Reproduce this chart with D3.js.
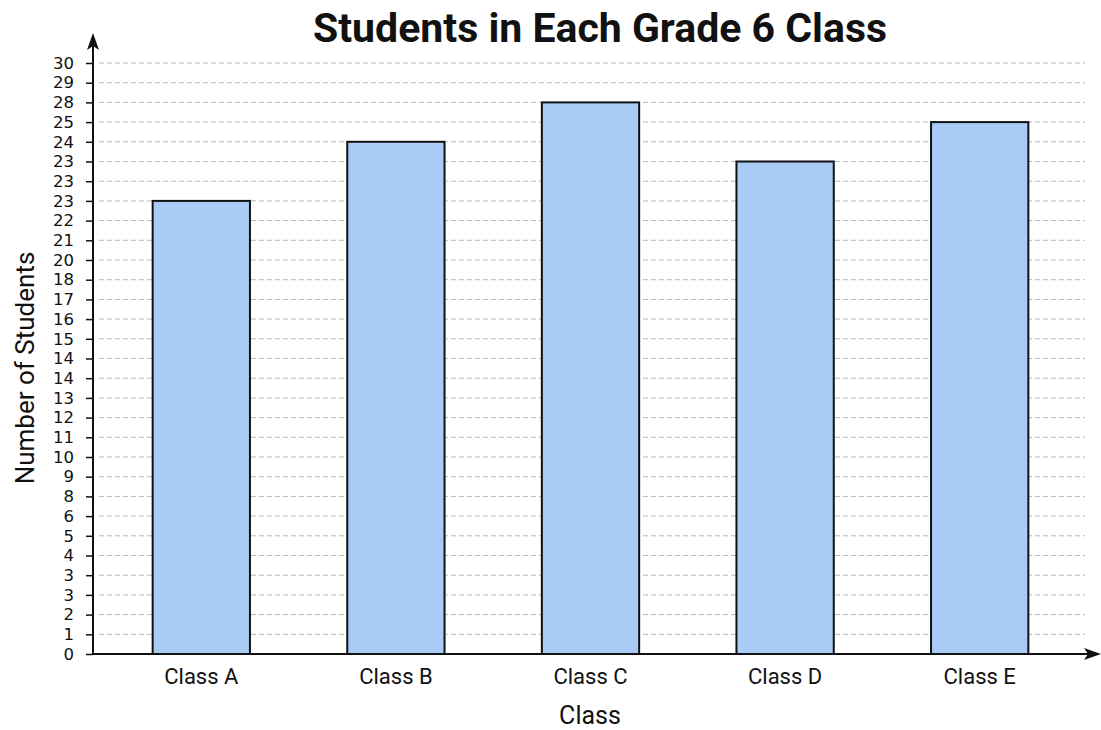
<!DOCTYPE html>
<html>
<head>
<meta charset="utf-8">
<script src="https://cdn.jsdelivr.net/npm/d3@7"></script>
<style>
  body { margin: 0; background: #fff; }
  text { font-family: Roboto, "Noto Sans", sans-serif; fill: #111; }
</style>
</head>
<body>
<svg width="1101" height="730"></svg>
<script>
// bar heights, read against the gridlines
const classes = ["Class A", "Class B", "Class C", "Class D", "Class E"]
const students = [23, 26, 28, 25, 27]
// tick labels exactly as printed on the chart, from 0 up to 30
const tickLabels = ["0", "1", "2", "3", "3", "4", "5", "6", "8", "9", "10",
    "11", "12", "13", "14", "14", "15", "16", "17", "18", "20",
    "21", "22", "23", "23", "23", "24", "25", "28", "29", "30"]

let svg = d3.select("svg")
const x0 = 93, yBase = 654, yTop = 63

let x = d3.scaleBand()
    .domain(classes)
    .range([104, 1077])
    .paddingInner(0.5)
    .paddingOuter(0.25)

let y = d3.scaleLinear()
    .domain([0, 30])
    .range([yBase, yTop])

const ticks = d3.range(0, 31)

// dashed gridlines
svg.append("g").selectAll("line").data(ticks.slice(1))
    .enter().append("line")
    .attr("x1", x0 + 6)
    .attr("x2", 1085)
    .attr("y1", d => y(d))
    .attr("y2", d => y(d))
    .attr("stroke", "#b8b8b8")
    .attr("stroke-width", 1)
    .attr("stroke-dasharray", "5,3")

// bars
svg.append("g").selectAll("rect").data(students)
    .enter().append("rect")
    .attr("x", (d, i) => x(classes[i]))
    .attr("y", d => y(d))
    .attr("width", x.bandwidth())
    .attr("height", d => yBase - y(d))
    .attr("fill", "#a9cbf6")
    .attr("stroke", "#111")
    .attr("stroke-width", 2)

// y axis
let yAxis = d3.axisLeft(y)
    .tickValues(ticks)
    .tickSize(7)
    .tickPadding(12)
    .tickFormat(d => tickLabels[d])

let gy = svg.append("g")
    .attr("transform", "translate(" + x0 + ",0)")
    .call(yAxis)
gy.select(".domain").remove()
gy.selectAll(".tick line").attr("stroke", "#111").attr("stroke-width", 1.5)
gy.selectAll(".tick text")
    .style("font-family", "'DejaVu Sans', sans-serif")
    .style("font-size", "16.5px")
    .attr("fill", "#111")

// x axis labels
let xAxis = d3.axisBottom(x).tickSize(0).tickPadding(14)
let gx = svg.append("g")
    .attr("transform", "translate(0," + yBase + ")")
    .call(xAxis)
gx.select(".domain").remove()
gx.selectAll(".tick text").style("font-size", "22px").attr("fill", "#111")

// axis lines with arrow heads
svg.append("line")
    .attr("x1", x0).attr("x2", x0)
    .attr("y1", yBase + 1).attr("y2", 44)
    .attr("stroke", "#111").attr("stroke-width", 2)
svg.append("path")
    .attr("d", "M" + x0 + ",33 L" + (x0 - 6) + ",50 L" + x0 + ",46 L" + (x0 + 6) + ",50 Z")
    .attr("fill", "#111")

svg.append("line")
    .attr("x1", x0 - 1).attr("x2", 1090)
    .attr("y1", yBase).attr("y2", yBase)
    .attr("stroke", "#111").attr("stroke-width", 2)
svg.append("path")
    .attr("d", "M1101," + yBase + " L1084," + (yBase - 6) + " L1088," + yBase + " L1084," + (yBase + 6) + " Z")
    .attr("fill", "#111")

// title and axis titles
svg.append("text")
    .attr("x", 600)
    .attr("y", 42)
    .attr("text-anchor", "middle")
    .style("font-size", "41px")
    .style("font-weight", "bold")
    .text("Students in Each Grade 6 Class")

svg.append("text")
    .attr("transform", "translate(34," + 368 + ") rotate(-90)")
    .attr("text-anchor", "middle")
    .style("font-size", "26px")
    .text("Number of Students")

svg.append("text")
    .attr("x", 590)
    .attr("y", 724)
    .attr("text-anchor", "middle")
    .style("font-size", "25px")
    .text("Class")
</script>
</body>
</html>
